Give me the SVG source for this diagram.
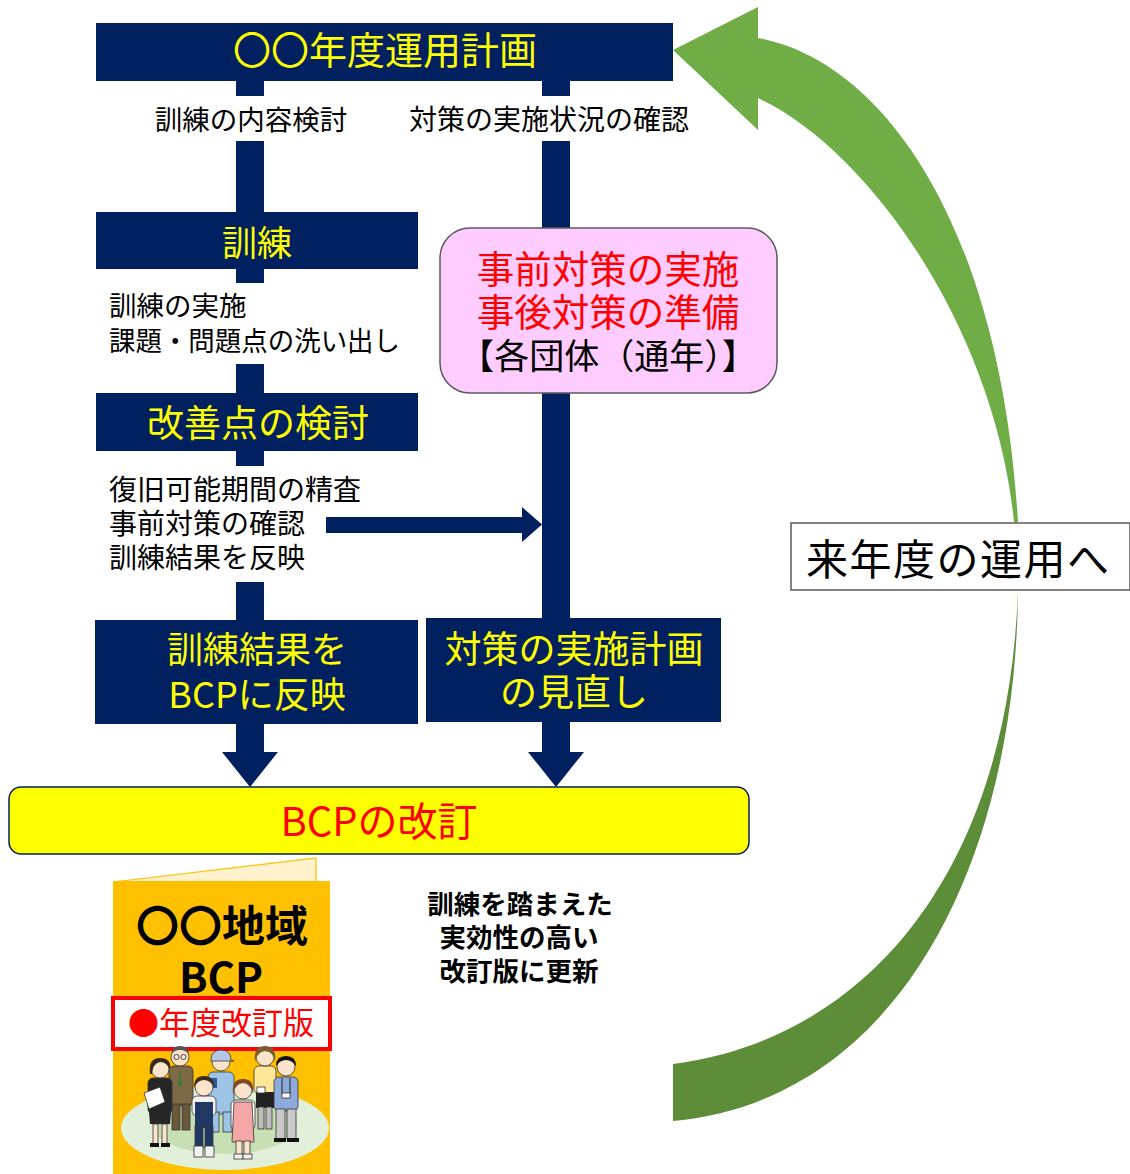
<svg xmlns="http://www.w3.org/2000/svg" width="1130" height="1174" viewBox="0 0 1130 1174">
  <defs>
    <style>
      .jp { font-family: "Noto Sans CJK JP", "Noto Sans", sans-serif; }
      .navy { fill: #002060; }
      .ylw { fill: #FFFF00; }
      .blk { fill: #000000; }
      .red { fill: #FF0000; }
      .mid { text-anchor: middle; }
      .skin { fill: #FCE3CC; stroke: #333; stroke-width: 0.8; }
      .ln { stroke: #333; stroke-width: 0.8; }
    </style>
  </defs>
  <rect width="1130" height="1174" fill="#FFFFFF"/>

  <!-- yearly cycle arrow: lower sweep (from the label back to the bottom) -->
  <g id="cycle-arrow">
    <path d="M1018,590 C1016,860 900,1100 673,1121 L673,1064 C860,1040 1008,880 1018,590 Z" fill="#5E8D3A"/>
    <!-- upper sweep with head pointing at the plan box -->
    <path d="M1018,522 C1000,220 880,60 758,38 L758,7 L673,50 L758,130 L758,98 C870,150 995,330 1014,522 Z" fill="#70AD47"/>
  </g>

  <!-- connectors -->
  <g id="connectors" class="navy">
    <!-- left column -->
    <rect x="236" y="80" width="28" height="16"/>
    <rect x="236" y="141" width="28" height="72"/>
    <rect x="236" y="268" width="28" height="15"/>
    <rect x="236" y="364" width="28" height="30"/>
    <rect x="236" y="450" width="28" height="16"/>
    <rect x="236" y="582" width="28" height="39"/>
    <rect x="236" y="723" width="28" height="30"/>
    <polygon points="222,752 278,752 250,787"/>
    <!-- right column -->
    <rect x="542" y="80" width="28" height="16"/>
    <rect x="542" y="141" width="28" height="88"/>
    <rect x="542" y="392" width="28" height="227"/>
    <rect x="542" y="721" width="28" height="32"/>
    <polygon points="528,752 584,752 556,787"/>
    <!-- cross link into the right column -->
    <rect x="326" y="517" width="198" height="16"/>
    <polygon points="522,507 542,524.5 522,542"/>
  </g>

  <g id="plan">
    <rect x="96" y="23" width="577" height="58" class="navy"/>
    <text x="385" y="64" class="jp ylw mid" font-size="38">〇〇年度運用計画</text>
  </g>

  <g id="label-plan-left">
    <text x="251" y="130" class="jp blk mid" font-size="27.5">訓練の内容検討</text>
  </g>
  <g id="label-plan-right">
    <text x="549" y="130" class="jp blk mid" font-size="28">対策の実施状況の確認</text>
  </g>

  <g id="training">
    <rect x="96" y="212" width="322" height="57" class="navy"/>
    <text x="257" y="256" class="jp ylw mid" font-size="35">訓練</text>
  </g>

  <g id="label-training">
    <text class="jp blk" font-size="27.5"><tspan x="109" y="316">訓練の実施</tspan><tspan x="109" y="351" textLength="291" lengthAdjust="spacingAndGlyphs">課題・問題点の洗い出し</tspan></text>
  </g>

  <g id="review">
    <rect x="96" y="393" width="322" height="58" class="navy"/>
    <text x="258" y="437" class="jp ylw mid" font-size="37">改善点の検討</text>
  </g>

  <g id="label-review">
    <text class="jp blk" font-size="28"><tspan x="109" y="500">復旧可能期間の精査</tspan><tspan x="109" y="534">事前対策の確認</tspan><tspan x="109" y="568">訓練結果を反映</tspan></text>
  </g>

  <g id="measures">
    <rect x="440" y="228" width="337" height="165" rx="30" ry="30" fill="#FFCCFF" stroke="#595959" stroke-width="1.5"/>
    <text class="jp mid" font-size="37.5"><tspan x="608" y="283" class="red">事前対策の実施</tspan><tspan x="608" y="326" class="red">事後対策の準備</tspan><tspan x="608" y="369" class="blk" font-size="35">【各団体（通年）】</tspan></text>
  </g>

  <g id="reflect-bcp">
    <rect x="95" y="620" width="323" height="104" class="navy"/>
    <text class="jp ylw mid" font-size="36"><tspan x="257" y="663">訓練結果を</tspan><tspan x="257" y="708">BCPに反映</tspan></text>
  </g>

  <g id="plan-review">
    <rect x="426" y="618" width="295" height="104" class="navy"/>
    <text class="jp ylw mid" font-size="37"><tspan x="574" y="663">対策の実施計画</tspan><tspan x="574" y="706">の見直し</tspan></text>
  </g>

  <g id="bcp-revision">
    <rect x="9" y="787" width="740" height="67" rx="12" ry="12" fill="#FFFF00" stroke="#002060" stroke-width="1.5"/>
    <text x="379" y="836" class="jp red mid" font-size="40">BCPの改訂</text>
  </g>

  <g id="next-year">
    <rect x="791" y="523" width="339" height="67" fill="#FFFFFF" stroke="#595959" stroke-width="1.5"/>
    <text x="806" y="575" class="jp blk" font-size="42" letter-spacing="1.5">来年度の運用へ</text>
  </g>

  <g id="bcp-book">
    <polygon points="113,882 316,858 316,882" fill="#FFF2CC" stroke="#FFC000" stroke-width="1.2"/>
    <rect x="113" y="881" width="217" height="293" fill="#FFC000"/>
    <text class="jp blk mid" font-weight="bold"><tspan x="222" y="942" font-size="43">〇〇地域</tspan><tspan x="221" y="993" font-size="42">BCP</tspan></text>
    <rect x="113" y="998" width="217" height="51" fill="#FFFFFF" stroke="#FF0000" stroke-width="4"/>
    <text x="221" y="1034" class="jp red mid" font-size="31">●年度改訂版</text>

    <!-- group of people standing on a lawn -->
    <ellipse cx="225" cy="1128" rx="104" ry="42" fill="#E2EFDA"/>
    <ellipse cx="225" cy="1126" rx="72" ry="28" fill="#C6E0B4"/>

    <!-- man in brown suit -->
    <rect x="169" y="1066" width="24" height="40" rx="5" fill="#7F6A47" class="ln"/>
    <rect x="172" y="1104" width="8" height="26" fill="#6B583A" class="ln"/>
    <rect x="182" y="1104" width="8" height="26" fill="#6B583A" class="ln"/>
    <path d="M180,1067 L178,1086 L182,1086 Z" fill="#3A7D2C"/>
    <circle cx="180" cy="1057" r="9" class="skin"/>
    <path d="M171,1055 Q172,1046 180,1046 Q189,1046 189,1055 Q186,1050 180,1050 Q174,1050 171,1055 Z" fill="#555"/>
    <circle cx="176.5" cy="1057" r="2.6" fill="none" stroke="#333" stroke-width="0.9"/>
    <circle cx="183.5" cy="1057" r="2.6" fill="none" stroke="#333" stroke-width="0.9"/>

    <!-- worker in cap and light blue overalls -->
    <rect x="208" y="1072" width="26" height="42" rx="5" fill="#9DC3E6" class="ln"/>
    <rect x="210" y="1112" width="9" height="20" fill="#9DC3E6" class="ln"/>
    <rect x="223" y="1112" width="9" height="20" fill="#9DC3E6" class="ln"/>
    <rect x="208" y="1078" width="9" height="10" fill="#2F5597"/>
    <circle cx="221" cy="1062" r="9" class="skin"/>
    <path d="M211,1060 Q211,1050 221,1050 Q231,1050 231,1060 L234,1061 L211,1061 Z" fill="#B4C7E7" class="ln"/>

    <!-- woman in yellow top -->
    <rect x="254" y="1066" width="22" height="28" rx="5" fill="#FFE699" class="ln"/>
    <rect x="256" y="1092" width="18" height="16" fill="#222"/>
    <rect x="258" y="1107" width="6" height="22" fill="#BFBFBF" class="ln"/>
    <rect x="266" y="1107" width="6" height="22" fill="#BFBFBF" class="ln"/>
    <rect x="257" y="1087" width="8" height="6" fill="#FFFFFF" class="ln"/>
    <circle cx="265" cy="1057" r="9" class="skin"/>
    <path d="M255,1062 Q253,1046 265,1046 Q277,1046 275,1062 Q274,1052 265,1051 Q257,1052 255,1062 Z" fill="#7F5A2E"/>

    <!-- woman in black suit with folder -->
    <rect x="148" y="1078" width="24" height="36" rx="5" fill="#262626" class="ln"/>
    <path d="M149,1112 L171,1112 L170,1124 L150,1124 Z" fill="#262626"/>
    <rect x="153" y="1124" width="5" height="20" class="skin"/>
    <rect x="162" y="1124" width="5" height="20" class="skin"/>
    <rect x="150" y="1143" width="9" height="4" fill="#111"/>
    <rect x="161" y="1143" width="9" height="4" fill="#111"/>
    <polygon points="144,1093 160,1087 165,1102 149,1109" fill="#FFFFFF" stroke="#333" stroke-width="0.8"/>
    <circle cx="160" cy="1069" r="9" class="skin"/>
    <path d="M150,1074 Q148,1058 160,1058 Q172,1058 170,1070 Q167,1062 160,1062 Q153,1063 152,1074 Z" fill="#3B2A1A"/>

    <!-- man in blue shirt with badge -->
    <rect x="274" y="1077" width="24" height="34" rx="5" fill="#8EA9DB" class="ln"/>
    <rect x="276" y="1109" width="9" height="30" fill="#C9C9C9" class="ln"/>
    <rect x="287" y="1109" width="9" height="30" fill="#C9C9C9" class="ln"/>
    <rect x="274" y="1138" width="12" height="4" fill="#111"/>
    <rect x="287" y="1138" width="12" height="4" fill="#111"/>
    <path d="M282,1078 L282,1094 M290,1078 L290,1094" stroke="#222" stroke-width="1"/>
    <rect x="282" y="1093" width="8" height="5" fill="#FFFFFF" class="ln"/>
    <circle cx="286" cy="1067" r="9" class="skin"/>
    <path d="M276,1066 Q276,1056 286,1056 Q296,1056 296,1066 Q292,1060 286,1060 Q280,1060 276,1066 Z" fill="#111"/>

    <!-- child in navy overalls -->
    <rect x="192" y="1096" width="24" height="20" rx="5" fill="#F2F2F2" class="ln"/>
    <rect x="195" y="1102" width="18" height="26" fill="#203864"/>
    <rect x="195" y="1126" width="8" height="22" fill="#203864" class="ln"/>
    <rect x="205" y="1126" width="8" height="22" fill="#203864" class="ln"/>
    <rect x="194" y="1146" width="9" height="11" fill="#F2F2F2" class="ln"/>
    <rect x="205" y="1146" width="9" height="11" fill="#F2F2F2" class="ln"/>
    <circle cx="204" cy="1087" r="9" class="skin"/>
    <path d="M194,1087 Q194,1076 204,1076 Q214,1076 214,1087 Q210,1080 204,1080 Q198,1080 194,1087 Z" fill="#3B2A1A"/>

    <!-- woman with pink apron -->
    <rect x="231" y="1100" width="24" height="30" rx="5" fill="#FFFFFF" class="ln"/>
    <path d="M234,1102 L252,1102 L254,1142 L232,1142 Z" fill="#F4A6A6" stroke="#333" stroke-width="0.8"/>
    <rect x="236" y="1141" width="6" height="14" class="skin"/>
    <rect x="244" y="1141" width="6" height="14" class="skin"/>
    <rect x="234" y="1154" width="9" height="5" fill="#F2F2F2" class="ln"/>
    <rect x="243" y="1154" width="9" height="5" fill="#F2F2F2" class="ln"/>
    <circle cx="243" cy="1090" r="9" class="skin"/>
    <path d="M233,1094 Q231,1079 243,1079 Q255,1079 253,1094 Q251,1084 243,1083 Q235,1084 233,1094 Z" fill="#7F4A2A"/>
  </g>

  <g id="note">
    <text class="jp blk mid" font-size="26.5" font-weight="bold"><tspan x="520" y="914">訓練を踏まえた</tspan><tspan x="519" y="947">実効性の高い</tspan><tspan x="519" y="981">改訂版に更新</tspan></text>
  </g>
</svg>
